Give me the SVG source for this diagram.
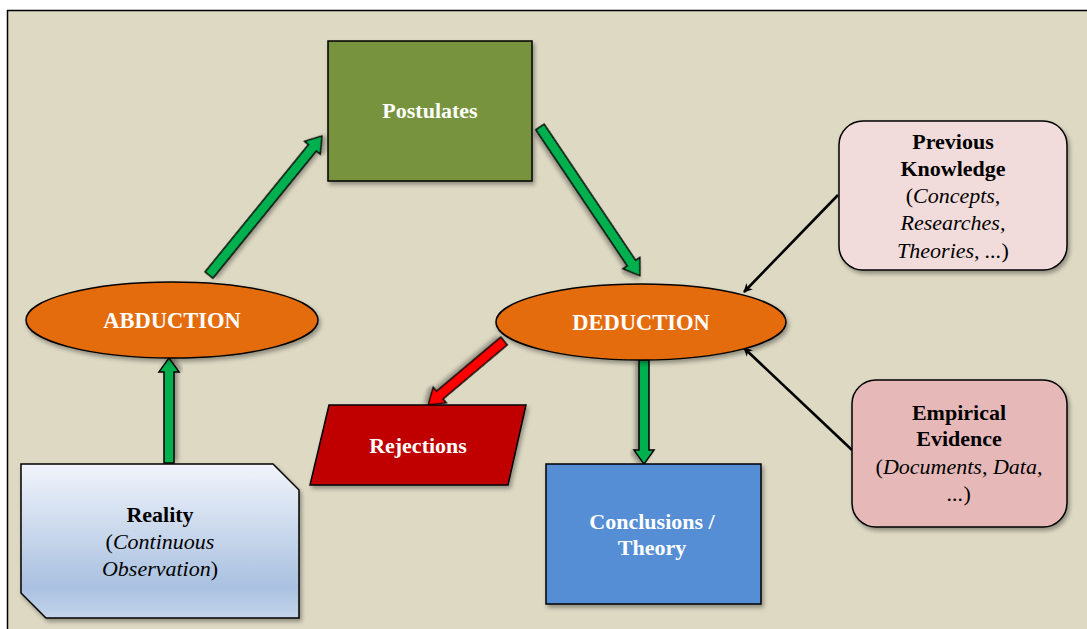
<svg xmlns="http://www.w3.org/2000/svg" width="1087" height="629" viewBox="0 0 1087 629">
  <defs>
    <filter id="shadow" x="-20%" y="-20%" width="140%" height="140%">
      <feDropShadow dx="2" dy="3" stdDeviation="2" flood-color="#000" flood-opacity="0.35"/>
    </filter>
    <linearGradient id="realityFill" x1="0" y1="0" x2="0" y2="1">
      <stop offset="0" stop-color="#F1F4FB"/>
      <stop offset="0.8" stop-color="#A9C1E0"/>
      <stop offset="1" stop-color="#C4D4EA"/>
    </linearGradient>
    <marker id="tip" viewBox="0 0 10 10" refX="9" refY="5" markerWidth="9" markerHeight="9" orient="auto" markerUnits="userSpaceOnUse">
      <path d="M0,0 L10,5 L0,10 L3,5 Z" fill="#000"/>
    </marker>
    <style>
      .shape { stroke: #000; stroke-width: 1.5; filter: url(#shadow); }
      .label { font-family: "Liberation Serif", "Times New Roman", serif; font-size: 22px; font-weight: bold; text-anchor: middle; }
      .big { font-size: 22.5px; }
      .white { fill: #FFFFFF; }
      .dark { fill: #000000; }
      .it { font-style: italic; font-weight: normal; }
      .reg { font-weight: normal; }
      .block { stroke: #000; stroke-width: 1.5; stroke-linejoin: miter; filter: url(#shadow); }
      .green { fill: #00B050; }
      .redarrow { fill: #FF0000; }
      .thin { stroke: #000; stroke-width: 2.6; fill: none; marker-end: url(#tip); }
    </style>
  </defs>

  <!-- canvas frame -->
  <rect x="7.5" y="10.5" width="1100" height="640" fill="#DDD9C3" stroke="#000" stroke-width="1.5"/>

  <!-- connectors -->
  <g id="connectors">
    <!-- Reality to ABDUCTION -->
    <polygon class="block green" transform="translate(169,463) rotate(-90)" points="0,-5 91,-5 91,-10 105,0 91,10 91,5 0,5"/>
    <!-- ABDUCTION to Postulates -->
    <polygon class="block green" transform="translate(209,275) rotate(-50.9)" points="0,-5 164,-5 164,-10 179,0 164,10 164,5 0,5"/>
    <!-- Postulates to DEDUCTION -->
    <polygon class="block green" transform="translate(540,127) rotate(56.1)" points="0,-5 164,-5 164,-10 179,0 164,10 164,5 0,5"/>
    <!-- DEDUCTION to Conclusions -->
    <polygon class="block green" transform="translate(644,360) rotate(90)" points="0,-5 90,-5 90,-10 104,0 90,10 90,5 0,5"/>
    <!-- DEDUCTION to Rejections -->
    <polygon class="block redarrow" transform="translate(504,341) rotate(139.9)" points="0,-5 84,-5 84,-10 99,0 84,10 84,5 0,5"/>
    <!-- inputs into DEDUCTION -->
    <line class="thin" x1="838" y1="195" x2="744" y2="292"/>
    <line class="thin" x1="852" y1="450" x2="744" y2="348"/>
  </g>

  <g id="postulates">
    <rect class="shape" x="328" y="41" width="204" height="140" fill="#77933C"/>
    <text class="label white" x="430" y="118">Postulates</text>
  </g>

  <g id="abduction">
    <ellipse class="shape" cx="172" cy="320" rx="146" ry="38" fill="#E46C0A"/>
    <text class="label big white" x="172" y="328">ABDUCTION</text>
  </g>

  <g id="deduction">
    <ellipse class="shape" cx="641" cy="322" rx="145" ry="38" fill="#E46C0A"/>
    <text class="label big white" x="641" y="330">DEDUCTION</text>
  </g>

  <g id="previous-knowledge">
    <rect class="shape" x="839" y="121" width="228" height="149" rx="24" fill="#F2DCDB"/>
    <text class="label dark" x="953" y="149">Previous</text>
    <text class="label dark" x="953" y="176">Knowledge</text>
    <text class="label dark" x="953" y="203"><tspan class="reg">(</tspan><tspan class="it">Concepts,</tspan></text>
    <text class="label dark it" x="953" y="230">Researches,</text>
    <text class="label dark" x="953" y="258"><tspan class="it">Theories, ...</tspan><tspan class="reg">)</tspan></text>
  </g>

  <g id="empirical-evidence">
    <rect class="shape" x="852" y="380" width="215" height="147" rx="24" fill="#E6B9B8"/>
    <text class="label dark" x="959" y="420">Empirical</text>
    <text class="label dark" x="959" y="446">Evidence</text>
    <text class="label dark" x="959" y="474"><tspan class="reg">(</tspan><tspan class="it">Documents, Data,</tspan></text>
    <text class="label dark" x="959" y="501"><tspan class="it">...</tspan><tspan class="reg">)</tspan></text>
  </g>

  <g id="rejections">
    <polygon class="shape" points="329,405 526,405 508,485 310,485" fill="#C00000"/>
    <text class="label white" x="418" y="453">Rejections</text>
  </g>

  <g id="conclusions">
    <rect class="shape" x="546" y="464" width="215" height="140" fill="#558ED5"/>
    <text class="label white" x="652" y="529">Conclusions /</text>
    <text class="label white" x="652" y="555">Theory</text>
  </g>

  <g id="reality">
    <polygon class="shape" points="21,464 273,464 299,490 299,618 46,618 21,593" fill="url(#realityFill)"/>
    <text class="label dark" x="160" y="522">Reality</text>
    <text class="label dark" x="160" y="549"><tspan class="reg">(</tspan><tspan class="it">Continuous</tspan></text>
    <text class="label dark" x="160" y="576"><tspan class="it">Observation</tspan><tspan class="reg">)</tspan></text>
  </g>
</svg>
